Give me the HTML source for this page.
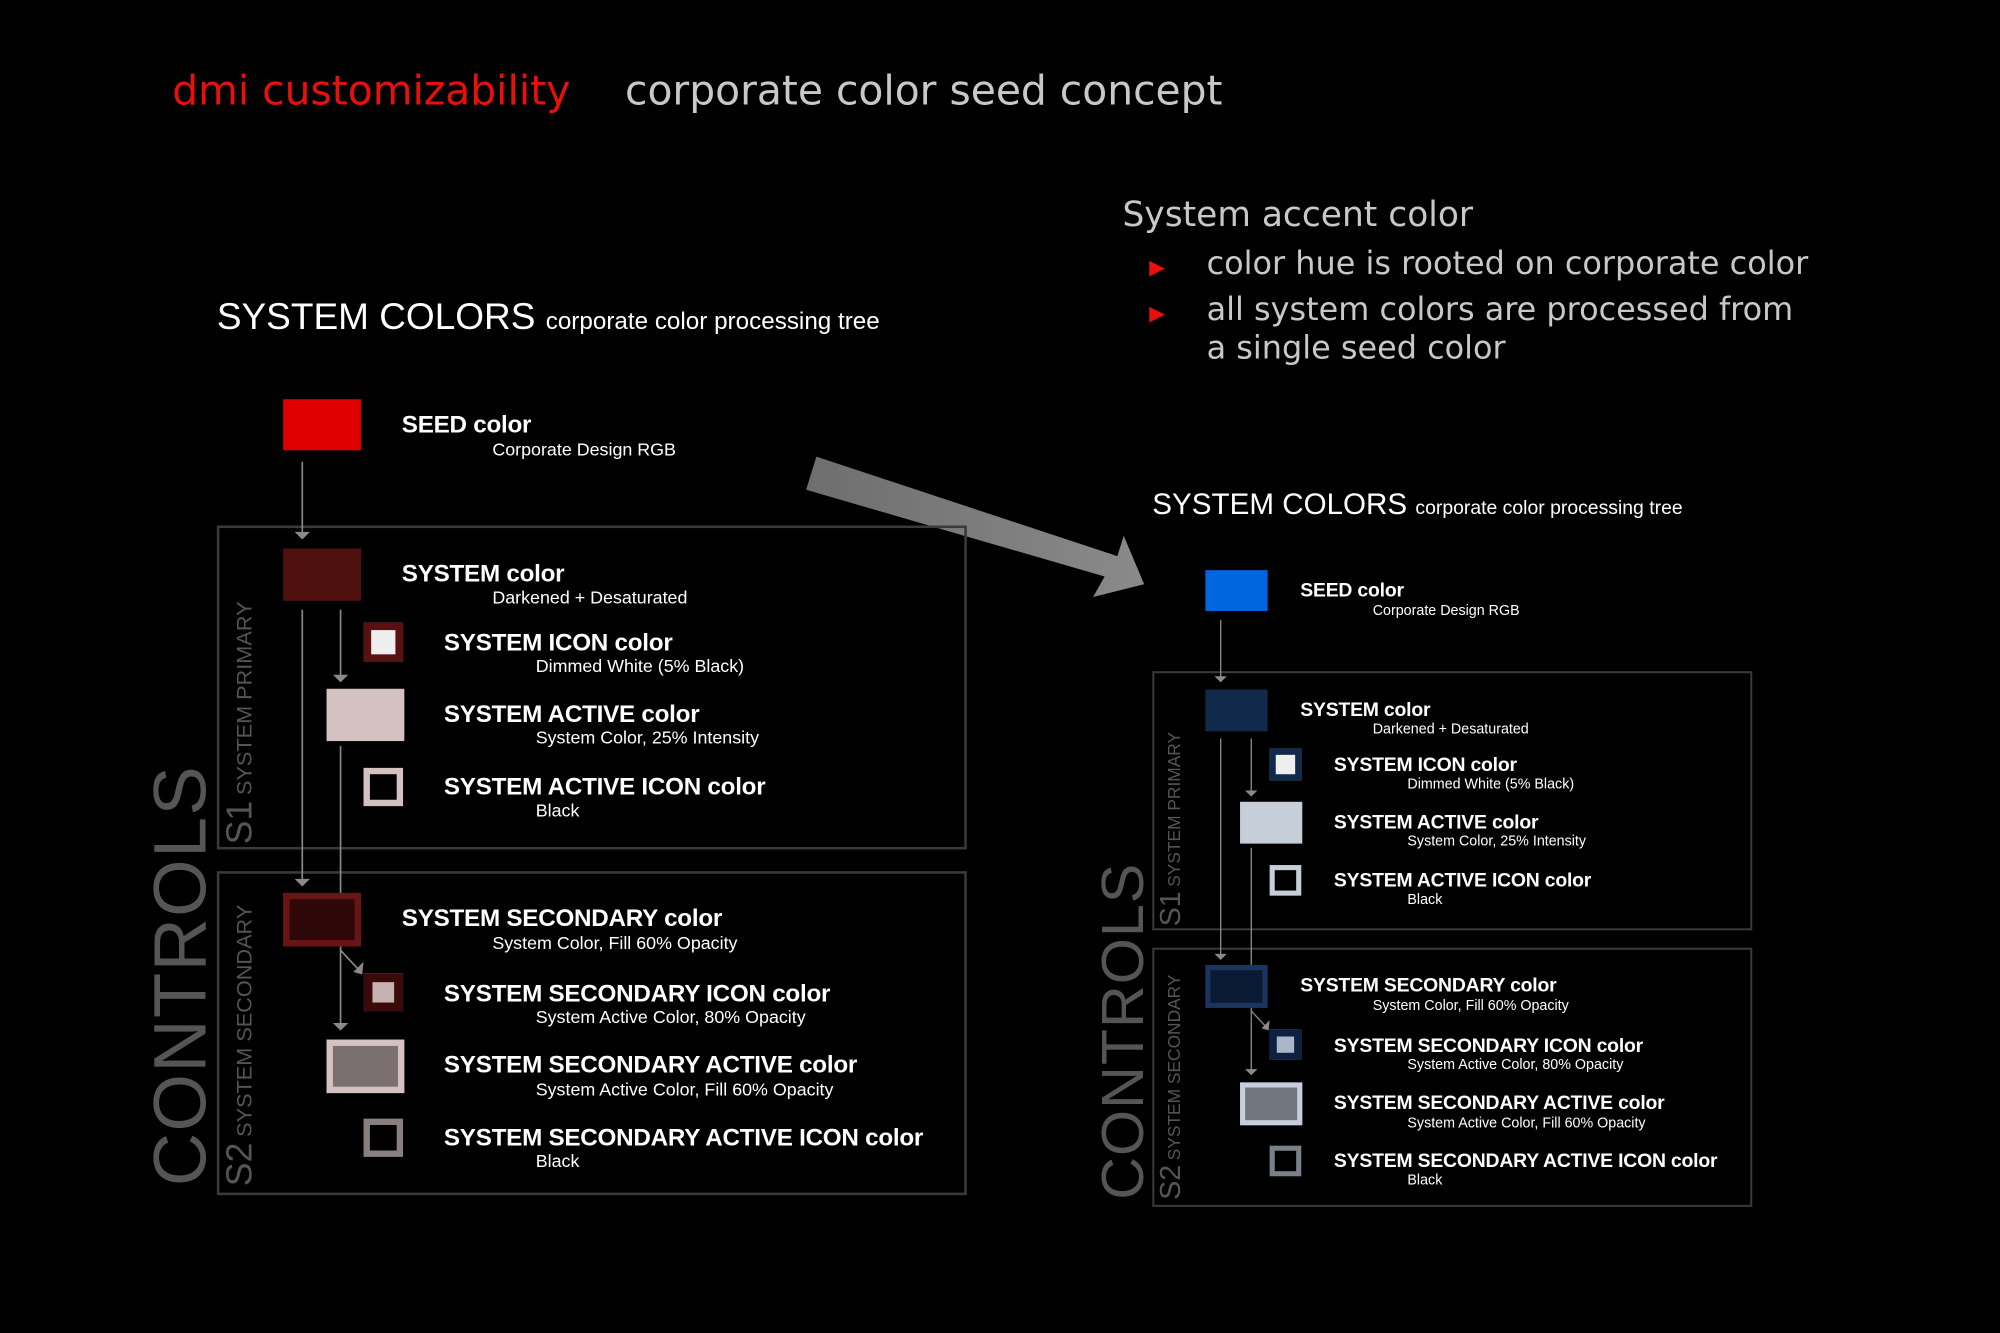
<!DOCTYPE html>
<html><head><meta charset="utf-8"><style>
html,body{margin:0;padding:0;background:#000;}
body{width:2000px;height:1333px;overflow:hidden;position:relative;}
#w{position:absolute;left:0;top:0;width:1568px;height:1045px;transform:scale(1.27551);transform-origin:0 0;font-family:"Liberation Sans",sans-serif;}
.a{position:absolute;white-space:nowrap;}
.tree{position:absolute;left:0;top:0;width:800px;height:950px;transform-origin:0 0;}
.t{position:absolute;white-space:nowrap;color:#fff;font-weight:bold;font-size:19px;letter-spacing:-0.2px;}
.s{position:absolute;white-space:nowrap;color:#fff;font-size:14px;}
.sw{position:absolute;box-sizing:border-box;}
.box{position:absolute;border:2px solid #3a3a3a;box-sizing:border-box;}
.rot{position:absolute;transform:rotate(-90deg);transform-origin:0 0;white-space:nowrap;color:#555;}
</style></head><body><div id="w">
<div class="a" style="left:135px;top:52px;font-family:'DejaVu Sans',sans-serif;font-size:32px;color:#e8100a;">dmi customizability</div>
<div class="a" style="left:490px;top:52px;font-family:'DejaVu Sans',sans-serif;font-size:32px;color:#c8c8c8;">corporate color seed concept</div>
<div class="a" style="left:880px;top:153px;font-family:'DejaVu Sans',sans-serif;font-size:27px;color:#c8c8c8;">System accent color</div>
<div class="a" style="left:901px;top:200px;font-size:16px;color:#e8100a;">&#9654;</div>
<div class="a" style="left:946px;top:192px;font-family:'DejaVu Sans',sans-serif;font-size:25px;color:#c8c8c8;">color hue is rooted on corporate color</div>
<div class="a" style="left:901px;top:236px;font-size:16px;color:#e8100a;">&#9654;</div>
<div class="a" style="left:946px;top:228px;font-family:'DejaVu Sans',sans-serif;font-size:25px;color:#c8c8c8;">all system colors are processed from</div>
<div class="a" style="left:946px;top:258px;font-family:'DejaVu Sans',sans-serif;font-size:25px;color:#c8c8c8;">a single seed color</div>
<svg class="a" style="left:0;top:0" width="1568" height="1045"><defs><linearGradient id="g" x1="0" x2="1"><stop offset="0" stop-color="#6e6e6e"/><stop offset="1" stop-color="#8a8a8a"/></linearGradient></defs>
<polygon points="640,358 876,436 881,420 897,458 857,468 866,452 632,384" fill="url(#g)"/></svg>

<!-- LEFT TREE -->
<div class="tree" style="transform:none;">
<div class="a" style="left:170px;top:233px;font-size:29px;color:#fff;">SYSTEM COLORS <span style="font-size:19px;">corporate color processing tree</span></div>
<div class="box" style="left:170px;top:412px;width:588px;height:254px;"></div>
<div class="box" style="left:170px;top:683px;width:588px;height:254px;"></div>
<div class="rot" style="left:108px;top:930px;font-size:58px;letter-spacing:1px;">CONTROLS</div>
<div class="rot" style="left:172px;top:662px;"><span style="font-size:28px;">S1</span> <span style="font-size:17px;">SYSTEM PRIMARY</span></div>
<div class="rot" style="left:172px;top:930px;"><span style="font-size:28px;">S2</span> <span style="font-size:17px;">SYSTEM SECONDARY</span></div>
<svg class="a" style="left:0;top:0" width="800" height="950" fill="none" stroke="#8a8a8a" stroke-width="1.3">
<line x1="237" y1="362" x2="237" y2="418"/><polygon points="231,417 243,417 237,423" fill="#8a8a8a" stroke="none"/>
<line x1="237" y1="478" x2="237" y2="690"/><polygon points="231,689 243,689 237,695" fill="#8a8a8a" stroke="none"/>
<line x1="267" y1="478" x2="267" y2="530"/><polygon points="261,529 273,529 267,535" fill="#8a8a8a" stroke="none"/>
<line x1="267" y1="585" x2="267" y2="803"/><polygon points="261,802 273,802 267,808" fill="#8a8a8a" stroke="none"/>
<line x1="267" y1="745" x2="281" y2="760"/><polygon points="277,762 285,754 284,764" fill="#8a8a8a" stroke="none"/>
</svg>
<div class="sw" style="left:222px;top:313px;width:61px;height:40px;background:#e00000;"></div>
<div class="t" style="left:315px;top:323px;">SEED color</div><div class="s" style="left:386px;top:344px;">Corporate Design RGB</div>
<div class="sw" style="left:222px;top:430px;width:61px;height:41px;background:#4f1010;"></div>
<div class="t" style="left:315px;top:440px;">SYSTEM color</div><div class="s" style="left:386px;top:460px;">Darkened + Desaturated</div>
<div class="sw" style="left:285px;top:488px;width:31px;height:31px;border:6px solid #5a1010;background:#eee;"></div>
<div class="t" style="left:348px;top:494px;">SYSTEM ICON color</div><div class="s" style="left:420px;top:514px;">Dimmed White (5% Black)</div>
<div class="sw" style="left:256px;top:540px;width:61px;height:41px;background:#d4c2c2;"></div>
<div class="t" style="left:348px;top:550px;">SYSTEM ACTIVE color</div><div class="s" style="left:420px;top:570px;">System Color, 25% Intensity</div>
<div class="sw" style="left:285px;top:602px;width:31px;height:30px;border:5px solid #d4c2c2;background:#000;"></div>
<div class="t" style="left:348px;top:607px;">SYSTEM ACTIVE ICON color</div><div class="s" style="left:420px;top:627px;">Black</div>
<div class="sw" style="left:222px;top:700px;width:61px;height:42px;border:5px solid #6a1515;background:#2e0808;"></div>
<div class="t" style="left:315px;top:710px;">SYSTEM SECONDARY color</div><div class="s" style="left:386px;top:731px;">System Color, Fill 60% Opacity</div>
<div class="sw" style="left:285px;top:763px;width:31px;height:30px;border:7px solid #3a0a0a;background:#c8b0b0;"></div>
<div class="t" style="left:348px;top:769px;">SYSTEM SECONDARY ICON color</div><div class="s" style="left:420px;top:789px;">System Active Color, 80% Opacity</div>
<div class="sw" style="left:256px;top:815px;width:61px;height:42px;border:5px solid #d4c2c2;background:#7a7070;"></div>
<div class="t" style="left:348px;top:825px;">SYSTEM SECONDARY ACTIVE color</div><div class="s" style="left:420px;top:846px;">System Active Color, Fill 60% Opacity</div>
<div class="sw" style="left:285px;top:877px;width:31px;height:30px;border:5px solid #8a7f7f;background:#000;"></div>
<div class="t" style="left:348px;top:882px;">SYSTEM SECONDARY ACTIVE ICON color</div><div class="s" style="left:420px;top:902px;">Black</div>
</div>

<!-- RIGHT TREE -->
<div class="tree" style="transform:translate(767.4px,196.6px) scale(0.8);">
<div class="a" style="left:170px;top:233px;font-size:29px;color:#fff;">SYSTEM COLORS <span style="font-size:19px;">corporate color processing tree</span></div>
<div class="box" style="left:170px;top:412px;width:588px;height:254px;"></div>
<div class="box" style="left:170px;top:683px;width:588px;height:254px;"></div>
<div class="rot" style="left:108px;top:930px;font-size:58px;letter-spacing:1px;">CONTROLS</div>
<div class="rot" style="left:172px;top:662px;"><span style="font-size:28px;">S1</span> <span style="font-size:17px;">SYSTEM PRIMARY</span></div>
<div class="rot" style="left:172px;top:930px;"><span style="font-size:28px;">S2</span> <span style="font-size:17px;">SYSTEM SECONDARY</span></div>
<svg class="a" style="left:0;top:0" width="800" height="950" fill="none" stroke="#8a8a8a" stroke-width="1.3">
<line x1="237" y1="362" x2="237" y2="418"/><polygon points="231,417 243,417 237,423" fill="#8a8a8a" stroke="none"/>
<line x1="237" y1="478" x2="237" y2="690"/><polygon points="231,689 243,689 237,695" fill="#8a8a8a" stroke="none"/>
<line x1="267" y1="478" x2="267" y2="530"/><polygon points="261,529 273,529 267,535" fill="#8a8a8a" stroke="none"/>
<line x1="267" y1="585" x2="267" y2="803"/><polygon points="261,802 273,802 267,808" fill="#8a8a8a" stroke="none"/>
<line x1="267" y1="745" x2="281" y2="760"/><polygon points="277,762 285,754 284,764" fill="#8a8a8a" stroke="none"/>
</svg>
<div class="sw" style="left:222px;top:313px;width:61px;height:40px;background:#0066e0;"></div>
<div class="t" style="left:315px;top:323px;">SEED color</div><div class="s" style="left:386px;top:344px;">Corporate Design RGB</div>
<div class="sw" style="left:222px;top:430px;width:61px;height:41px;background:#112a4c;"></div>
<div class="t" style="left:315px;top:440px;">SYSTEM color</div><div class="s" style="left:386px;top:460px;">Darkened + Desaturated</div>
<div class="sw" style="left:285px;top:488px;width:31px;height:31px;border:6px solid #112a4c;background:#eee;"></div>
<div class="t" style="left:348px;top:494px;">SYSTEM ICON color</div><div class="s" style="left:420px;top:514px;">Dimmed White (5% Black)</div>
<div class="sw" style="left:256px;top:540px;width:61px;height:41px;background:#c6ced9;"></div>
<div class="t" style="left:348px;top:550px;">SYSTEM ACTIVE color</div><div class="s" style="left:420px;top:570px;">System Color, 25% Intensity</div>
<div class="sw" style="left:285px;top:602px;width:31px;height:30px;border:5px solid #c6ced9;background:#000;"></div>
<div class="t" style="left:348px;top:607px;">SYSTEM ACTIVE ICON color</div><div class="s" style="left:420px;top:627px;">Black</div>
<div class="sw" style="left:222px;top:700px;width:61px;height:42px;border:5px solid #1a3560;background:#0a1a32;"></div>
<div class="t" style="left:315px;top:710px;">SYSTEM SECONDARY color</div><div class="s" style="left:386px;top:731px;">System Color, Fill 60% Opacity</div>
<div class="sw" style="left:285px;top:763px;width:31px;height:30px;border:7px solid #0e2040;background:#a8b6c8;"></div>
<div class="t" style="left:348px;top:769px;">SYSTEM SECONDARY ICON color</div><div class="s" style="left:420px;top:789px;">System Active Color, 80% Opacity</div>
<div class="sw" style="left:256px;top:815px;width:61px;height:42px;border:5px solid #c6ced9;background:#6f767e;"></div>
<div class="t" style="left:348px;top:825px;">SYSTEM SECONDARY ACTIVE color</div><div class="s" style="left:420px;top:846px;">System Active Color, Fill 60% Opacity</div>
<div class="sw" style="left:285px;top:877px;width:31px;height:30px;border:5px solid #7a8088;background:#000;"></div>
<div class="t" style="left:348px;top:882px;">SYSTEM SECONDARY ACTIVE ICON color</div><div class="s" style="left:420px;top:902px;">Black</div>
</div>
</div></body></html>
